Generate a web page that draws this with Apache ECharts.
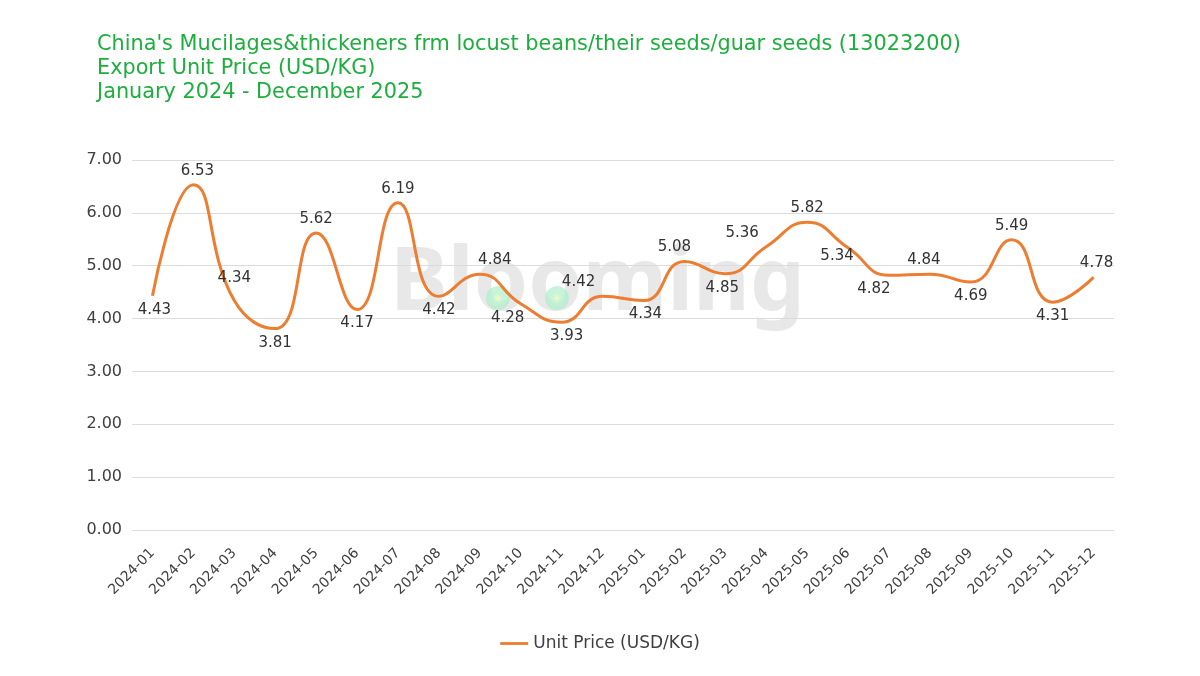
<!DOCTYPE html>
<html>
<head>
<meta charset="utf-8">
<script src="https://cdn.jsdelivr.net/npm/echarts@6/dist/echarts.min.js"></script>
<style>
  html, body { margin: 0; padding: 0; background: #fff; }
  #main { width: 1200px; height: 676px; }
</style>
</head>
<body>
<div id="main"></div>
<script>
// data
const months = ['2024-01', '2024-02', '2024-03', '2024-04', '2024-05', '2024-06', '2024-07', '2024-08',
  '2024-09', '2024-10', '2024-11', '2024-12', '2025-01', '2025-02', '2025-03', '2025-04',
  '2025-05', '2025-06', '2025-07', '2025-08', '2025-09', '2025-10', '2025-11', '2025-12'];
const unitPrice = [4.43, 6.53, 4.34, 3.81, 5.62, 4.17, 6.19, 4.42, 4.84, 4.28, 3.93, 4.42,
  4.34, 5.08, 4.85, 5.36, 5.82, 5.34, 4.82, 4.84, 4.69, 5.49, 4.31, 4.78];
const yTicks = [0, 1, 2, 3, 4, 5, 6, 7];

// where each value label sits relative to its point
const labelPlace = ['bottom', 'top', 'top', 'bottom', 'top', 'bottom', 'top', 'bottom',
  'top', 'bottom', 'bottom', 'top', 'bottom', 'top', 'bottom', 'top',
  'top', 'bottom', 'bottom', 'top', 'bottom', 'top', 'bottom', 'top'];
const labelShift = [[2, 0], [4, 0], [0, -8], [0, 0], [0, 0], [0, 0], [0, 0], [0, 0],
  [15, 0], [-13, 0], [5, 0], [-24, 0], [2, 0], [-10, 0], [-3, 0], [-24, 0],
  [0, 0], [-11, -6], [-15, 0], [-6, 0], [0, 0], [0, 0], [0, 0], [3, 0]];

const seriesData = unitPrice.map((v, i) => ({
  value: v,
  label: { position: labelPlace[i], offset: labelShift[i] }
}));

const font = 'DejaVu Sans';
const dotFill = () => new echarts.graphic.RadialGradient(0.5, 0.5, 0.5, [
  { offset: 0, color: 'rgba(252,250,190,1)' },
  { offset: 0.35, color: 'rgba(195,245,210,0.9)' },
  { offset: 1, color: 'rgba(165,235,200,0.6)' }]);

const myChart = echarts.init(document.getElementById('main'));
myChart.setOption({
  animation: false,
  color: ['#ED7D31'],
  title: {
    text: "China's Mucilages&thickeners frm locust beans/their seeds/guar seeds (13023200)\nExport Unit Price (USD/KG)\nJanuary 2024 - December 2025",
    left: 92,
    top: 28,
    textStyle: {
      color: '#1EAE3E',
      fontFamily: font,
      fontWeight: 'normal',
      fontSize: 20.8,
      lineHeight: 24
    }
  },
  graphic: [
    {
      type: 'text',
      left: 390,
      top: 242,
      z: 0,
      style: {
        text: 'Blooming',
        fontFamily: 'Noto Sans',
        fontWeight: 'bold',
        fontSize: 87,
        fill: 'rgba(205,205,205,0.45)'
      }
    },
    { type: 'circle', shape: { cx: 498, cy: 298, r: 12 }, z: 0, style: { fill: dotFill() } },
    { type: 'circle', shape: { cx: 557, cy: 298, r: 12 }, z: 0, style: { fill: dotFill() } }
  ],
  legend: {
    bottom: 19,
    left: 'center',
    icon: 'path://M0,0 L30,0 L30,3 L0,3 Z',
    itemWidth: 28,
    itemHeight: 3,
    itemGap: 10,
    itemStyle: { color: '#ED7D31' },
    textStyle: { color: '#404040', fontSize: 17, fontFamily: font }
  },
  grid: {
    left: 132,
    right: 86,
    top: 160,
    bottom: 146,
    containLabel: false
  },
  xAxis: {
    type: 'category',
    data: months,
    boundaryGap: true,
    axisLine: { show: false },
    axisTick: { show: false },
    axisLabel: {
      rotate: 45,
      interval: 0,
      margin: 21,
      color: '#404040',
      fontSize: 14,
      fontFamily: font
    }
  },
  yAxis: {
    type: 'value',
    min: yTicks[0],
    max: yTicks[yTicks.length - 1],
    interval: 1,
    axisLine: { show: false },
    axisTick: { show: false },
    splitLine: { lineStyle: { color: '#DCDCDC', width: 1 } },
    axisLabel: {
      margin: 10,
      color: '#404040',
      fontSize: 16,
      fontFamily: font,
      formatter: v => v.toFixed(2)
    }
  },
  series: [
    {
      name: 'Unit Price (USD/KG)',
      type: 'line',
      smooth: 0.5,
      showSymbol: true,
      symbol: 'circle',
      symbolSize: 1,
      itemStyle: { color: 'rgba(0,0,0,0)' },
      lineStyle: { width: 3, color: '#ED7D31' },
      z: 3,
      label: {
        show: true,
        color: '#333',
        fontSize: 15,
        fontFamily: font,
        distance: 6,
        formatter: p => p.value.toFixed(2)
      },
      data: seriesData
    }
  ]
});
</script>
</body>
</html>
